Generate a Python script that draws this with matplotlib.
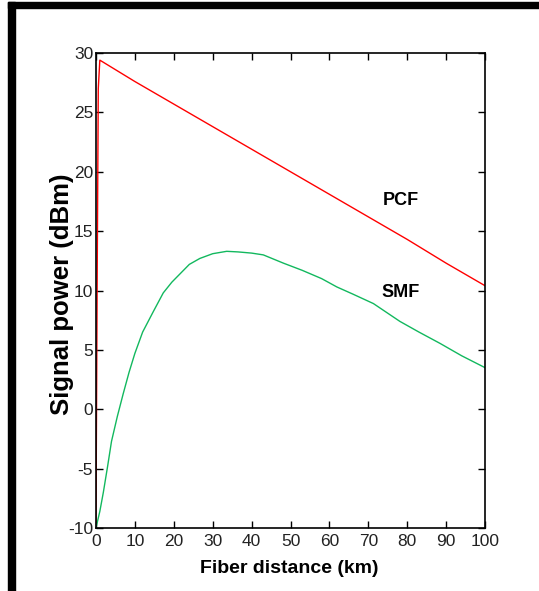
import numpy as np
import matplotlib
matplotlib.use('Agg')
from matplotlib import pyplot as plt
from matplotlib.patches import Rectangle

# PCF signal power along the fiber
pcf_distance = [0, 0.3, 0.6, 1.0, 10, 20, 30, 40, 50, 60, 70, 80, 90, 100]
pcf_power = [-10, 10, 27.0, 29.4, 27.6, 25.7, 23.8, 21.9, 20.0, 18.1, 16.2, 14.3, 12.3, 10.4]

# SMF signal power along the fiber
smf_distance = [0, 1.0, 1.9, 3.0, 4.0, 5.5, 7.0, 8.5, 10.0, 12.0, 14.7, 17.3, 19.5, 21.6, 24.0,
                26.7, 30.0, 33.6, 36.5, 40, 43, 48.2, 53, 58, 61.9, 66, 71.3, 78.1, 83, 88.4, 94, 100]
smf_power = [-10, -8.6, -7.0, -4.8, -2.7, -0.6, 1.3, 3.1, 4.7, 6.5, 8.2, 9.8, 10.7, 11.4, 12.2,
             12.7, 13.1, 13.3, 13.25, 13.15, 13.0, 12.3, 11.7, 11.0, 10.3, 9.7, 8.9, 7.4, 6.5, 5.55, 4.5, 3.5]

x_ticks = np.arange(0, 101, 10)
y_ticks = np.arange(-10, 31, 5)

plt.rcParams['font.family'] = ['Liberation Sans', 'DejaVu Sans']
plt.rcParams['axes.unicode_minus'] = False

fig = plt.figure(figsize=(5.39, 5.91), dpi=100)
ax = fig.add_axes([0.178, 0.1066, 0.722, 0.8037])

ax.plot(pcf_distance, pcf_power, color='#ff0000', lw=1.0)
ax.plot(smf_distance, smf_power, color='#12b85e', lw=1.0)

ax.set_xlim(0, 100)
ax.set_ylim(-10, 30)
ax.set_xticks(x_ticks)
ax.set_yticks(y_ticks)
ax.tick_params(direction='in', length=5, width=1, top=True, right=True,
               labelsize=12.5, pad=2, colors='black', labelcolor='#222222')
ax.tick_params(axis='x', pad=4)
for s in ax.spines.values():
    s.set_linewidth(1.2)

ax.set_xlabel('Fiber distance (km)', fontsize=14, fontweight='bold')
ax.xaxis.set_label_coords(0.496, -0.068)
ax.set_ylabel('Signal power (dBm)', fontsize=18.5, fontweight='bold')
ax.yaxis.set_label_coords(-0.057, 0.4926)

ax.text(78.4, 17.6, 'PCF', fontsize=13, fontweight='bold', ha='center', va='center')
ax.text(78.4, 9.8, 'SMF', fontsize=13, fontweight='bold', ha='center', va='center')

# black frame on top and left of the picture
W, H = 539, 591
fig.patches.append(Rectangle((8 / W, 0), 7 / W, 1 - 2 / H, transform=fig.transFigure,
                             color='black', zorder=10))
fig.patches.append(Rectangle((8 / W, 1 - 8 / H), 1 - 8 / W, 6 / H, transform=fig.transFigure,
                             color='black', zorder=10))

fig.savefig('out.png', dpi=100)
